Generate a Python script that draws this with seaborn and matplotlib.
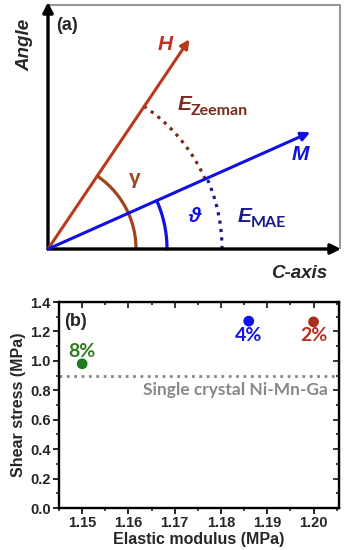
import numpy as np
import pandas as pd
import matplotlib
matplotlib.use('Agg')
import matplotlib.pyplot as plt
import seaborn as sns

sns.set_style('ticks')
plt.rcParams['font.family'] = ['Liberation Sans', 'DejaVu Sans']

# Panel (a) schematic: vector angles (deg) and lengths (px)
vec_names = ['H', 'M']
vec_angles = [56, 24]
vec_lengths = [253, 287]
vec_colors = ['#b83a1e', '#1010e0']

# arcs: radius, start angle, end angle, colour, style
arc_names = ['gamma', 'theta', 'Zeeman', 'MAE']
arc_radius = [88, 119, 172, 174]
arc_start = [0, 0, 24, 0]
arc_end = [56, 24, 56, 24]
arc_colors = ['#a0441e', '#1010e0', '#7a2a1a', '#1a1a8a']
arc_styles = ['-', '-', ':', ':']

# Panel (b) data
labels = ['8%', '4%', '2%']
modulus = [1.150, 1.186, 1.200]
stress = [0.98, 1.27, 1.265]
pt_colors = ['#1e7a1e', '#1010f0', '#a8301a']
txt_colors = ['#2e7d1e', '#1515e0', '#b83020']
single_crystal = 0.9

fig = plt.figure(figsize=(3.44, 5.5), dpi=100)

# ---------- panel (a)
axa = fig.add_axes([0, 260 / 550, 1, 290 / 550])
axa.set_xlim(-48, 296)
axa.set_ylim(-41, 249)
axa.axis('off')

# grey frame
axa.plot([0, 292, 292], [244, 244, 0], color='#999999', lw=1.5, solid_capstyle='butt')
# axis arrows
axa.annotate('', xy=(0, 247), xytext=(0, 0),
             arrowprops=dict(arrowstyle='-|>', color='black', lw=2.4, mutation_scale=15,
                             shrinkA=0, shrinkB=0))
axa.annotate('', xy=(293, 0), xytext=(0, 0),
             arrowprops=dict(arrowstyle='-|>', color='black', lw=2.4, mutation_scale=15,
                             shrinkA=0, shrinkB=0))

for ang, ln, c in zip(vec_angles, vec_lengths, vec_colors):
    t = np.deg2rad(ang)
    axa.annotate('', xy=(ln * np.cos(t), ln * np.sin(t)), xytext=(0, 0),
                 arrowprops=dict(arrowstyle='-|>', color=c, lw=2.2, mutation_scale=13,
                                 shrinkA=0, shrinkB=0))

for r, a0, a1, c, ls in zip(arc_radius, arc_start, arc_end, arc_colors, arc_styles):
    tt = np.deg2rad(np.linspace(a0, a1, 60))
    axa.plot(r * np.cos(tt), r * np.sin(tt), color=c, lw=2.3, ls=ls)

axa.text(19, 224, '(a)', fontsize=13, fontweight='bold', ha='center', va='center')
axa.text(-23, 204, 'Angle', fontsize=13.5, fontweight='bold', style='italic',
         rotation=90, ha='center', va='center')
axa.text(251, -24, 'C-axis', fontsize=13.5, fontweight='bold', style='italic',
         ha='center', va='center')
axa.text(117, 204, 'H', fontsize=15, fontweight='bold', style='italic',
         color='#c0301e', ha='center', va='center')
axa.text(252, 94, 'M', fontsize=15, fontweight='bold', style='italic',
         color='#1010e0', ha='center', va='center')
axa.text(87, 71, 'γ', fontsize=15, fontweight='bold', color='#a0441e',
         ha='center', va='center')
axa.text(146, 32, 'ϑ', fontsize=15, fontweight='bold', style='italic',
         color='#1010e0', ha='center', va='center')
axa.text(130, 144, 'E', fontsize=15, fontweight='bold', style='italic',
         color='#7a2a1a', ha='left', va='center')
axa.text(143, 138, 'Zeeman', fontsize=11.5, fontweight='bold', family=['Lato', 'DejaVu Sans'],
         color='#7a2a1a', ha='left', va='center')
axa.text(190, 32, 'E', fontsize=15, fontweight='bold', style='italic',
         color='#1a1a8a', ha='left', va='center')
axa.text(203, 26, 'MAE', fontsize=11.5, fontweight='bold', family=['Lato', 'DejaVu Sans'],
         color='#1a1a8a', ha='left', va='center')

# ---------- panel (b)
axb = fig.add_axes([59 / 344, 42 / 550, 280 / 344, 206 / 550])
df = pd.DataFrame({'label': labels, 'modulus': modulus, 'stress': stress})
sns.scatterplot(data=df, x='modulus', y='stress', hue='label', palette=pt_colors,
                s=60, edgecolor='none', legend=False, ax=axb, zorder=3)
axb.axhline(single_crystal, color='#888888', ls=':', lw=2)
axb.text(1.2032, single_crystal - 0.10, 'Single crystal Ni-Mn-Ga', color='#888888',
         fontsize=12.5, fontweight='bold', family=['Lato', 'DejaVu Sans'],
         ha='right', va='center')
offsets = [0.085, -0.10, -0.095]
for lb, x, y, c, o in zip(labels, modulus, stress, txt_colors, offsets):
    axb.text(x, y + o, lb, color=c, fontsize=14, fontweight='bold',
             family=['Lato', 'DejaVu Sans'], ha='center', va='center')
axb.text(1.1462, 1.27, '(b)', fontsize=13, fontweight='bold', ha='left', va='center')

axb.set_xlim(1.145, 1.2055)
axb.set_ylim(0, 1.4)
axb.set_xticks([1.15, 1.16, 1.17, 1.18, 1.19, 1.20])
axb.set_xticklabels(['1.15', '1.16', '1.17', '1.18', '1.19', '1.20'])
axb.set_yticks(np.arange(0, 1.41, 0.2))
axb.set_yticklabels([f'{v:.1f}' for v in np.arange(0, 1.41, 0.2)])
axb.set_xticks(np.arange(1.145, 1.2056, 0.005), minor=True)
axb.set_yticks(np.arange(0, 1.41, 0.1), minor=True)
axb.tick_params(which='major', direction='out', length=4, width=1.4, labelsize=10.5, pad=2)
axb.tick_params(which='minor', direction='out', length=2.5, width=1.2)
for lab in axb.get_xticklabels() + axb.get_yticklabels():
    lab.set_fontweight('bold')
axb.set_xlabel('Elastic modulus (MPa)', fontsize=11.5, fontweight='bold', labelpad=1)
axb.set_ylabel('Shear stress (MPa)', fontsize=11.5, fontweight='bold', labelpad=3)
for sp in axb.spines.values():
    sp.set_linewidth(1.7)
    sp.set_color('black')

top = axb.secondary_xaxis('top')
top.set_xticks(axb.get_xticks())
top.set_xticks(np.arange(1.145, 1.2056, 0.005), minor=True)
top.tick_params(which='both', direction='in', labeltop=False, width=1.3)
top.tick_params(which='major', length=4.5)
top.tick_params(which='minor', length=2.5)
right = axb.secondary_yaxis('right')
right.set_yticks(np.arange(0, 1.41, 0.2))
right.set_yticks(np.arange(0, 1.41, 0.1), minor=True)
right.tick_params(which='both', direction='in', labelright=False, width=1.3)
right.tick_params(which='major', length=4.5)
right.tick_params(which='minor', length=2.5)

fig.savefig('out.png', dpi=100)
